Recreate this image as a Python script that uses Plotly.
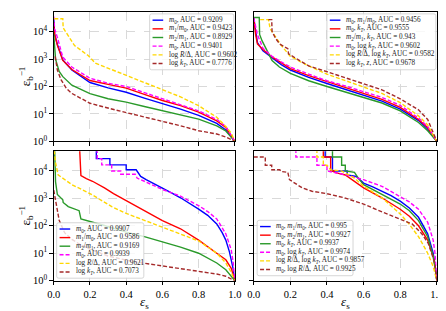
import plotly.graph_objects as go

# ---------------- data ----------------
# Top-left panel
tl_blue_x = [0, 0.005, 0.02, 0.05, 0.1, 0.2, 0.3, 0.4, 0.5, 0.6, 0.7, 0.8, 0.9, 0.95, 1.0]
tl_blue_y = [28000, 7900, 3500, 930, 400, 140, 89, 62, 38, 24, 15, 8.9, 4.5, 2.6, 1]
tl_red_x = [0, 0.005, 0.02, 0.05, 0.1, 0.2, 0.3, 0.4, 0.5, 0.6, 0.7, 0.8, 0.9, 0.95, 1.0]
tl_red_y = [22400, 7900, 3160, 890, 417, 166, 120, 87, 52, 31, 20, 11.7, 5.6, 3.2, 1]
tl_green_x = [0, 0.005, 0.01, 0.03, 0.05, 0.1, 0.2, 0.3, 0.4, 0.5, 0.6, 0.7, 0.8, 0.9, 0.95, 1.0]
tl_green_y = [8000, 2000, 1000, 355, 229, 112, 55, 36, 27, 18.6, 12.9, 9.1, 6.5, 3.7, 2.4, 1]
tl_magenta_x = [0, 0.005, 0.02, 0.035, 0.05, 0.1, 0.2, 0.3, 0.4, 0.5, 0.6, 0.7, 0.8, 0.9, 0.95, 1.0]
tl_magenta_y = [35500, 12600, 6200, 2500, 1175, 513, 200, 132, 100, 60, 35.5, 22.4, 12.9, 6.3, 3.5, 1]
tl_gold_x = [0.003, 0.05, 0.052, 0.07, 0.095, 0.115, 0.14, 0.19, 0.23, 0.32, 0.4, 0.5, 0.6, 0.7, 0.8, 0.9, 0.95, 0.98, 1.0]
tl_gold_y = [29500, 29500, 13800, 9100, 4700, 3100, 2350, 1350, 710, 417, 251, 141, 79, 42, 20, 7.6, 3.5, 2.0, 1]
tl_brown_x = [0.008, 0.02, 0.04, 0.07, 0.1, 0.2, 0.32, 0.43, 0.5, 0.6, 0.7, 0.8, 0.9, 0.95, 1.0]
tl_brown_y = [1260, 400, 178, 85, 56, 24.5, 15.1, 10, 7.9, 5.6, 3.7, 2.45, 1.86, 1.45, 1]

# Top-right panel
tr_blue_x = [0, 0.01, 0.02, 0.05, 0.1, 0.15, 0.2, 0.3, 0.4, 0.5, 0.6, 0.7, 0.8, 0.9, 0.95, 1.0]
tr_blue_y = [31600, 10000, 4000, 2000, 1120, 630, 400, 214, 129, 79, 50, 29.5, 15.1, 5.75, 2.8, 1]
tr_red_x = [0, 0.01, 0.02, 0.05, 0.1, 0.15, 0.2, 0.3, 0.4, 0.5, 0.6, 0.7, 0.8, 0.9, 0.95, 1.0]
tr_red_y = [31600, 7900, 3550, 2240, 1200, 710, 447, 251, 151, 93, 58, 34, 17.4, 6.3, 3.2, 1]
tr_green_x = [0, 0.03, 0.032, 0.045, 0.1, 0.14, 0.2, 0.3, 0.4, 0.5, 0.6, 0.7, 0.8, 0.9, 0.95, 1.0]
tr_green_y = [33000, 33000, 7900, 4700, 890, 513, 302, 162, 100, 63, 42, 25, 12.9, 4.9, 2.45, 1]
tr_magenta_x = [0, 0.01, 0.02, 0.05, 0.1, 0.15, 0.2, 0.3, 0.4, 0.5, 0.6, 0.7, 0.8, 0.9, 0.95, 1.0]
tr_magenta_y = [31600, 15800, 7900, 2500, 1260, 794, 513, 282, 162, 105, 66, 40, 20.4, 7.1, 3.5, 1]
tr_gold_x = [0.035, 0.08, 0.09, 0.12, 0.15, 0.2, 0.3, 0.4, 0.5, 0.6, 0.7, 0.8, 0.9, 0.95, 1.0]
tr_gold_y = [27500, 27500, 12600, 6300, 3160, 1260, 562, 282, 166, 100, 56, 26, 8.5, 4.0, 1]
tr_brown_x = [0.08, 0.098, 0.1, 0.12, 0.142, 0.186, 0.19, 0.3, 0.4, 0.5, 0.6, 0.7, 0.8, 0.9, 0.95, 1.0]
tr_brown_y = [27500, 27500, 10000, 5600, 3550, 2400, 1550, 562, 347, 214, 126, 76, 35.5, 14.1, 6.3, 1]

# Bottom-left panel
bl_blue_x = [0.235, 0.235, 0.31, 0.31, 0.40, 0.40, 0.455, 0.48, 0.51, 0.55, 0.6, 0.65, 0.7, 0.75, 0.8, 0.85, 0.9, 0.93, 0.95, 0.97, 0.98, 0.99, 1.0]
bl_blue_y = [63000, 28000, 28000, 16600, 16600, 11000, 11000, 6300, 4800, 3550, 2400, 1580, 1050, 660, 407, 240, 117, 56, 30, 11.2, 5.75, 2.8, 1]
bl_red_x = [0.143, 0.148, 0.15, 0.18, 0.214, 0.28, 0.33, 0.4, 0.5, 0.6, 0.7, 0.8, 0.9, 0.95, 0.98, 1.0]
bl_red_y = [63000, 15800, 6800, 5200, 4200, 2400, 1480, 830, 355, 155, 78, 30, 10, 5.75, 2.8, 1]
bl_green_x = [0.005, 0.01, 0.02, 0.05, 0.052, 0.08, 0.14, 0.15, 0.28, 0.4, 0.5, 0.6, 0.7, 0.8, 0.9, 0.95, 1.0]
bl_green_y = [56000, 4000, 1380, 890, 710, 500, 355, 178, 102, 59, 40, 26, 16.6, 10, 4.4, 2.5, 1]
bl_magenta_x = [0.24, 0.24, 0.265, 0.265, 0.32, 0.32, 0.37, 0.37, 0.45, 0.46, 0.5, 0.6, 0.7, 0.8, 0.85, 0.9, 0.95, 0.98, 0.99, 1.0]
bl_magenta_y = [63000, 28000, 28000, 16600, 16600, 10000, 10000, 7600, 7600, 5500, 4200, 2100, 1200, 540, 330, 178, 51, 13.2, 5.0, 1]
bl_gold_x = [0.003, 0.01, 0.024, 0.05, 0.1, 0.21, 0.32, 0.4, 0.5, 0.6, 0.7, 0.8, 0.9, 0.95, 0.98, 1.0]
bl_gold_y = [56000, 20000, 7200, 5500, 3160, 1380, 500, 282, 158, 89, 52, 28, 10, 4.4, 2.0, 1]
bl_brown_x = [0.0, 0.01, 0.03, 0.06, 0.1, 0.15, 0.2, 0.3, 0.4, 0.5, 0.6, 0.7, 0.8, 0.9, 0.95, 1.0]
bl_brown_y = [2000, 794, 158, 56, 32, 20, 14.1, 7.9, 5.6, 4.3, 3.4, 2.75, 2.24, 1.74, 1.45, 1]

# Bottom-right panel
br_blue_x = [0.39, 0.39, 0.43, 0.43, 0.51, 0.51, 0.56, 0.6, 0.65, 0.7, 0.75, 0.8, 0.85, 0.9, 0.95, 0.98, 0.99, 1.0]
br_blue_y = [63000, 32000, 32000, 10000, 10000, 7100, 6300, 3600, 2600, 1820, 1260, 794, 447, 204, 51, 10, 4.0, 1]
br_red_x = [0.38, 0.38, 0.42, 0.42, 0.44, 0.44, 0.5, 0.55, 0.6, 0.7, 0.8, 0.85, 0.9, 0.95, 0.98, 0.99, 1.0]
br_red_y = [63000, 32000, 32000, 10000, 10000, 8900, 7100, 4000, 2400, 1050, 400, 224, 100, 30, 7.6, 3.2, 1]
br_green_x = [0.43, 0.43, 0.48, 0.48, 0.5, 0.5, 0.55, 0.57, 0.6, 0.7, 0.8, 0.85, 0.9, 0.95, 0.98, 0.99, 1.0]
br_green_y = [63000, 32000, 32000, 16200, 16200, 10000, 8900, 5600, 3160, 1380, 620, 355, 155, 40, 7.6, 3.2, 1]
br_magenta_x = [0.23, 0.23, 0.345, 0.345, 0.4, 0.4, 0.5, 0.6, 0.7, 0.8, 0.85, 0.9, 0.95, 0.98, 0.99, 1.0]
br_magenta_y = [63000, 32000, 32000, 16200, 16200, 10000, 7200, 4800, 2750, 1200, 740, 400, 135, 30, 10, 1]
br_gold_x = [0.345, 0.345, 0.38, 0.38, 0.4, 0.42, 0.48, 0.55, 0.6, 0.7, 0.8, 0.85, 0.9, 0.95, 0.98, 1.0]
br_gold_y = [63000, 32000, 32000, 16200, 16200, 11000, 10000, 5500, 2750, 1050, 270, 112, 40, 10, 3.3, 1]
br_brown_x = [0.0, 0.063, 0.063, 0.098, 0.098, 0.142, 0.15, 0.186, 0.195, 0.23, 0.265, 0.318, 0.4, 0.495, 0.6, 0.706, 0.8, 0.865, 0.918, 0.953, 0.989, 1.0]
br_brown_y = [32000, 32000, 16200, 16200, 11000, 11000, 9500, 8900, 4800, 3300, 2400, 1820, 1480, 1050, 620, 310, 178, 117, 51, 23, 4.4, 1]

# Legend labels
tl_labels = ["<i>m</i><sub>0</sub>, AUC = 0.9209",
             "<i>m</i><sub>1</sub>/<i>m</i><sub>0</sub>, AUC = 0.9423",
             "<i>m</i><sub>2</sub>/<i>m</i><sub>1</sub>, AUC = 0.8929",
             "<i>m</i><sub>0</sub>, AUC = 0.9401",
             "log <i>R</i>/Δ, AUC = 0.9602",
             "log <i>k</i><sub><i>T</i></sub>, AUC = 0.7776"]
tr_labels = ["<i>m</i><sub>0</sub>, <i>m</i><sub>1</sub>/<i>m</i><sub>0</sub>, AUC = 0.9456",
             "<i>m</i><sub>0</sub>, <i>k</i><sub><i>T</i></sub>, AUC = 0.9555",
             "<i>m</i><sub>2</sub>/<i>m</i><sub>1</sub>, <i>k</i><sub><i>T</i></sub>, AUC = 0.943",
             "<i>m</i><sub>0</sub>, log <i>k</i><sub><i>T</i></sub>, AUC = 0.9602",
             "log <i>R</i>/Δ, log <i>k</i><sub><i>T</i></sub>, AUC = 0.9582",
             "log <i>k</i><sub><i>T</i></sub>, <i>z</i>, AUC = 0.9678"]
bl_labels = ["<i>m</i><sub>0</sub>, AUC = 0.9907",
             "<i>m</i><sub>1</sub>/<i>m</i><sub>0</sub>, AUC = 0.9586",
             "<i>m</i><sub>2</sub>/<i>m</i><sub>1</sub>, AUC = 0.9169",
             "<i>m</i><sub>0</sub>, AUC = 0.9939",
             "log <i>R</i>/Δ, AUC = 0.9621",
             "log <i>k</i><sub><i>T</i></sub>, AUC = 0.7073"]
br_labels = ["<i>m</i><sub>0</sub>, <i>m</i><sub>1</sub>/<i>m</i><sub>0</sub>, AUC = 0.995",
             "<i>m</i><sub>0</sub>, <i>m</i><sub>2</sub>/<i>m</i><sub>1</sub>, AUC = 0.9927",
             "<i>m</i><sub>0</sub>, <i>k</i><sub><i>T</i></sub>, AUC = 0.9937",
             "<i>m</i><sub>0</sub>, log <i>k</i><sub><i>T</i></sub>, AUC = 0.9974",
             "log <i>R</i>/Δ, log <i>k</i><sub><i>T</i></sub>, AUC = 0.9857",
             "<i>m</i><sub>0</sub>, log <i>R</i>/Δ, AUC = 0.9925"]

x_ticks = [0.0, 0.2, 0.4, 0.6, 0.8, 1.0]
x_ticktext = ["0.0", "0.2", "0.4", "0.6", "0.8", "1.0"]
y_ticks = [1, 10, 100, 1000, 10000]
y_ticktext = ["10<sup>0</sup>", "10<sup>1</sup>", "10<sup>2</sup>", "10<sup>3</sup>", "10<sup>4</sup>"]

# ---------------- styling ----------------
W, H = 446, 311
FONT = "Liberation Serif"
colors = ["#0000ff", "#ff0000", "#2a9a2a", "#ff00ff", "#ffd700", "#a52a2a"]
dashes = ["solid", "solid", "solid", "4px,2px", "4px,2px", "4px,2px"]
LW = 1.4


def px2paper_x(px):
    return px / W


def px2paper_y(py):
    return 1 - py / H


# axes rectangles in pixels: (left, right, top, bottom)
panels = {
    "tl": dict(ax="", rect=(40, 227, 4, 136)),
    "tr": dict(ax="2", rect=(246.5, 435.5, 4, 136)),
    "bl": dict(ax="3", rect=(40, 227, 146, 278)),
    "br": dict(ax="4", rect=(246.5, 435.5, 146, 278)),
}

series = {
    "tl": [(tl_blue_x, tl_blue_y), (tl_red_x, tl_red_y), (tl_green_x, tl_green_y),
           (tl_magenta_x, tl_magenta_y), (tl_gold_x, tl_gold_y), (tl_brown_x, tl_brown_y)],
    "tr": [(tr_blue_x, tr_blue_y), (tr_red_x, tr_red_y), (tr_green_x, tr_green_y),
           (tr_magenta_x, tr_magenta_y), (tr_gold_x, tr_gold_y), (tr_brown_x, tr_brown_y)],
    "bl": [(bl_blue_x, bl_blue_y), (bl_red_x, bl_red_y), (bl_green_x, bl_green_y),
           (bl_magenta_x, bl_magenta_y), (bl_gold_x, bl_gold_y), (bl_brown_x, bl_brown_y)],
    "br": [(br_blue_x, br_blue_y), (br_red_x, br_red_y), (br_green_x, br_green_y),
           (br_magenta_x, br_magenta_y), (br_gold_x, br_gold_y), (br_brown_x, br_brown_y)],
}
labels = {"tl": tl_labels, "tr": tr_labels, "bl": bl_labels, "br": br_labels}

# legend boxes in pixels: (left, top, right, bottom)
legend_boxes = {
    "tl": (139, 6, 226, 63),
    "tr": (322, 6, 434.5, 63),
    "bl": (43, 219, 133, 275.5),
    "br": (250, 216.5, 349, 273),
}

fig = go.Figure()
layout = dict(
    width=W, height=H,
    margin=dict(l=0, r=0, t=0, b=0),
    paper_bgcolor="white", plot_bgcolor="white",
    showlegend=False,
    font=dict(family=FONT, color="black", size=10),
)

for key, p in panels.items():
    ax = p["ax"]
    left, right, top, bottom = p["rect"]
    xa = "xaxis" + ax
    ya = "yaxis" + ax
    bottom_row = key in ("bl", "br")
    left_col = key in ("tl", "bl")
    layout[xa] = dict(
        domain=[px2paper_x(left), px2paper_x(right)],
        anchor="y" + ax, range=[0, 1],
        tickvals=x_ticks, ticktext=x_ticktext, showticklabels=bottom_row,
        ticks="outside", ticklen=3.5, tickwidth=0.8, tickcolor="black",
        showline=True, linecolor="black", linewidth=1, mirror=True,
        showgrid=True, gridcolor="#d9d9d9", griddash="dash", gridwidth=0.8,
        zeroline=False, tickfont=dict(size=10.5, family=FONT),
    )
    layout[ya] = dict(
        domain=[px2paper_y(bottom), px2paper_y(top)],
        anchor="x" + ax, type="log", range=[0, 4.72],
        tickvals=y_ticks, ticktext=y_ticktext, showticklabels=left_col,
        ticks="outside", ticklen=3.5, tickwidth=0.8, tickcolor="black",
        showline=True, linecolor="black", linewidth=1, mirror=True,
        showgrid=True, gridcolor="#d9d9d9", griddash="dash", gridwidth=0.8,
        zeroline=False, tickfont=dict(size=10.5, family=FONT),
    )
    for i, (xs, ys) in enumerate(series[key]):
        fig.add_trace(go.Scatter(
            x=xs, y=ys, mode="lines", xaxis="x" + ax, yaxis="y" + ax,
            line=dict(color=colors[i], width=LW, dash=dashes[i]),
            hoverinfo="skip",
        ))

fig.update_layout(**layout)

shapes = []
annotations = []
for key, (L, T, R, B) in legend_boxes.items():
    r = 2.0
    xl, xr = px2paper_x(L), px2paper_x(R)
    yt, yb = px2paper_y(T), px2paper_y(B)
    rx, ry = r / W, r / H
    path = (f"M {xl+rx},{yt} L {xr-rx},{yt} Q {xr},{yt} {xr},{yt-ry} "
            f"L {xr},{yb+ry} Q {xr},{yb} {xr-rx},{yb} L {xl+rx},{yb} "
            f"Q {xl},{yb} {xl},{yb+ry} L {xl},{yt-ry} Q {xl},{yt} {xl+rx},{yt} Z")
    shapes.append(dict(type="path", path=path, xref="paper", yref="paper",
                       fillcolor="rgba(255,255,255,0.8)", line=dict(color="#cccccc", width=0.8),
                       layer="above"))
    row_h = (B - T - 4) / 6
    for i, lab in enumerate(labels[key]):
        yc = T + 2 + row_h * (i + 0.5)
        shapes.append(dict(type="line", xref="paper", yref="paper",
                           x0=px2paper_x(L + 3), x1=px2paper_x(L + 14),
                           y0=px2paper_y(yc), y1=px2paper_y(yc),
                           line=dict(color=colors[i], width=LW, dash=dashes[i]),
                           layer="above"))
        annotations.append(dict(text=lab, xref="paper", yref="paper",
                                x=px2paper_x(L + 17.5), y=px2paper_y(yc),
                                xanchor="left", yanchor="middle", showarrow=False,
                                font=dict(size=7.2, family=FONT, color="#222222")))

# axis titles
for py in (70, 212):
    annotations.append(dict(text="ε<sub>b</sub><sup>−1</sup>", xref="paper", yref="paper",
                            x=px2paper_x(11), y=px2paper_y(py), textangle=-90,
                            showarrow=False, xanchor="center", yanchor="middle",
                            font=dict(size=13, family=FONT, color="black")))
for px in (133.5, 341):
    annotations.append(dict(text="<i>ε</i><sub>s</sub>", xref="paper", yref="paper",
                            x=px2paper_x(px), y=px2paper_y(300),
                            showarrow=False, xanchor="center", yanchor="middle",
                            font=dict(size=13, family=FONT, color="black")))

fig.update_layout(shapes=shapes, annotations=annotations)
fig.write_html("out.html")
